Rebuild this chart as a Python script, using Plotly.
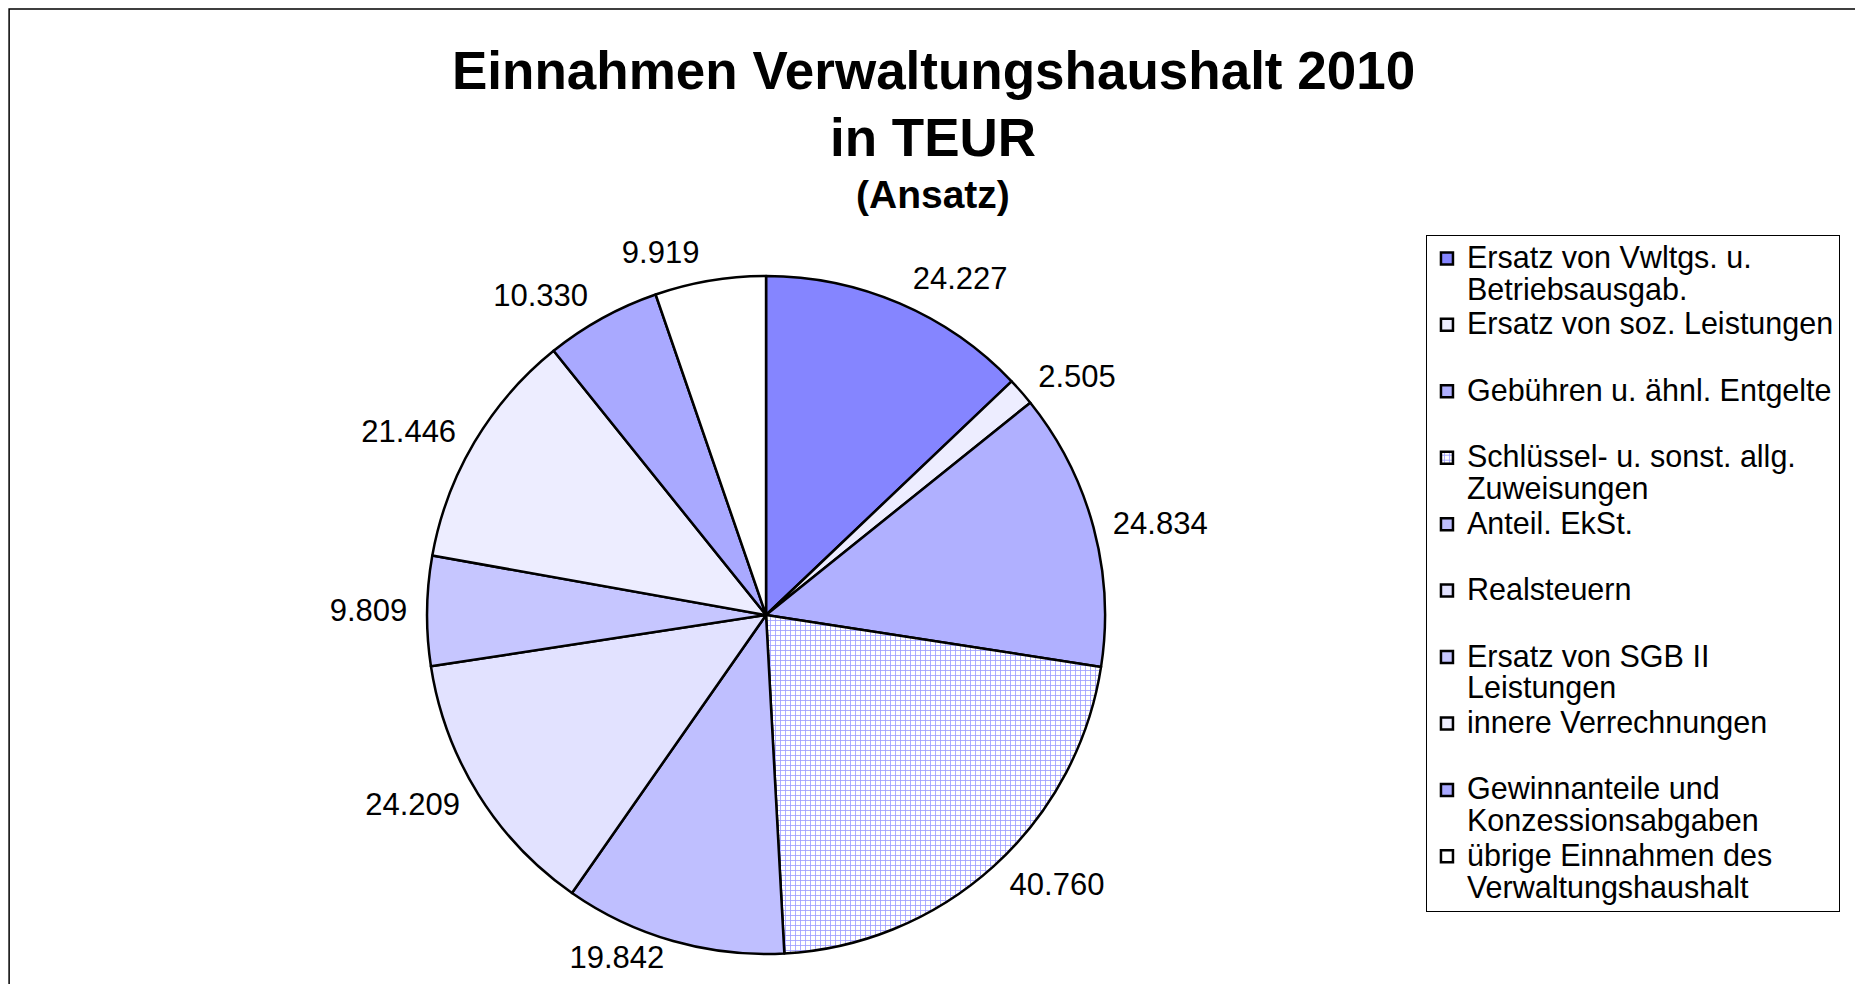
import plotly.graph_objects as go

# Einnahmen Verwaltungshaushalt 2010, Ansatz in TEUR
kategorien = [
    "Ersatz von Vwltgs. u.<br>Betriebsausgab.",
    "Ersatz von soz. Leistungen",
    "Gebühren u. ähnl. Entgelte",
    "Schlüssel- u. sonst. allg.<br>Zuweisungen",
    "Anteil. EkSt.",
    "Realsteuern",
    "Ersatz von SGB II<br>Leistungen",
    "innere Verrechnungen",
    "Gewinnanteile und<br>Konzessionsabgaben",
    "übrige Einnahmen des<br>Verwaltungshaushalt",
]
werte = [24227, 2505, 24834, 40760, 19842, 24209, 9809, 21446, 10330, 9919]
werte_text = ["24.227", "2.505", "24.834", "40.760", "19.842",
              "24.209", "9.809", "21.446", "10.330", "9.919"]

titel_zeilen = ["Einnahmen Verwaltungshaushalt 2010", "in TEUR", "(Ansatz)"]

farben = ["#8585FF", "#EDEDFF", "#B0B0FF", "#FFFFFF", "#BFBFFF",
          "#E2E2FF", "#C6C6FF", "#EDEDFF", "#A9A9FF", "#FFFFFF"]
muster = ["", "", "", "+", "", "", "", "", "", ""]

FONT = "Liberation Sans, Arial"

# legend: every entry takes two lines, glyphs bigger than the line pitch
def leg_label(s):
    if "<br>" not in s:
        s = s + "<br> "
    sp = "<span style='font-size:30.5px'>"
    return sp + s.replace("<br>", "</span><br>" + sp) + "</span>"

labels = [leg_label(k) for k in kategorien]

# the bottom label stays at the rim, otherwise it runs off the page
unten = {"19.842"}
text_aussen = ["" if t in unten else t for t in werte_text]
text_innen = [t if t in unten else "" for t in werte_text]

# page has an 8px body margin, so the figure is a bit smaller than the window
W, H = 1855, 976

fig = go.Figure()

# invisible, slightly larger pie that only carries the value labels
# (pushes them a bit further away from the rim, like in the original)
fig.add_trace(go.Pie(
    labels=werte_text,
    values=werte,
    text=text_aussen,
    textinfo="text",
    textposition="outside",
    sort=False,
    direction="clockwise",
    rotation=0,
    marker=dict(colors=["rgba(0,0,0,0)"] * len(werte), line=dict(width=0)),
    outsidetextfont=dict(family=FONT, size=31, color="black"),
    domain=dict(x=[0.2199, 0.5973], y=[0.0195, 0.7367]),
    showlegend=False,
    hoverinfo="skip",
))

fig.add_trace(go.Pie(
    labels=labels,
    values=werte,
    text=text_innen,
    textinfo="text",
    textposition="outside",
    sort=False,
    direction="clockwise",
    rotation=0,
    marker=dict(
        colors=farben,
        line=dict(color="black", width=2.5),
        pattern=dict(shape=muster, fgcolor="#9C9CFF", bgcolor="#FFFFFF",
                     size=5, solidity=0.3),
    ),
    outsidetextfont=dict(family=FONT, size=31, color="black"),
    domain=dict(x=[0.2259, 0.5914], y=[0.0307, 0.7254]),
    showlegend=True,
))

annots = [
    dict(text="<b>" + titel_zeilen[0] + "</b>", y=0.9355, size=53),
    dict(text="<b>" + titel_zeilen[1] + "</b>", y=0.8678, size=53),
    dict(text="<b>" + titel_zeilen[2] + "</b>", y=0.8094, size=39),
]

fig.update_layout(
    width=W,
    height=H,
    margin=dict(l=0, r=0, t=0, b=0),
    paper_bgcolor="white",
    plot_bgcolor="white",
    font=dict(family=FONT, color="black"),
    annotations=[dict(text=a["text"], x=0.4987, y=a["y"], xref="paper", yref="paper",
                      xanchor="center", yanchor="middle", showarrow=False,
                      font=dict(family=FONT, size=a["size"], color="black"))
                 for a in annots],
    legend=dict(
        x=0.7644,
        xanchor="left",
        y=0.7674,
        yanchor="top",
        bordercolor="black",
        borderwidth=1,
        font=dict(family=FONT, size=24.4, color="black"),
        valign="top",
        traceorder="normal",
        itemclick=False,
    ),
    shapes=[dict(type="rect", xref="paper", yref="paper",
                 x0=0.0006, x1=0.9968, y0=-0.05, y1=0.999,
                 line=dict(color="black", width=1.5))],
)

fig.write_html("out.html")
